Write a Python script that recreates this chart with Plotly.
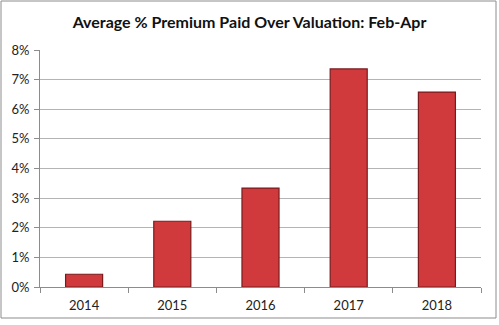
import plotly.graph_objects as go

years = ["2014", "2015", "2016", "2017", "2018"]
premium = [0.0043, 0.0222, 0.0334, 0.0736, 0.0658]

W, H = 499, 325
ml, mr, mt, mb = 40, 18, 50, 38
pw, ph = W - ml - mr, H - mt - mb

fig = go.Figure(
    go.Bar(
        x=years,
        y=premium,
        width=0.42,
        marker=dict(color="#D03A3C", line=dict(color="#7A1A1C", width=1.2)),
    )
)

# outer frame around the whole chart, expressed in paper units
fx0, fx1 = (1 - ml) / pw, (W - 3 - ml) / pw
fy0, fy1 = -(H - 7 - (H - mb)) / ph, (H - mb - 1) / ph
fig.add_shape(type="rect", xref="paper", yref="paper",
              x0=fx0, x1=fx1, y0=fy0, y1=fy1,
              line=dict(color="#8C8C8C", width=1), layer="below")

fig.update_layout(
    width=W, height=H,
    margin=dict(l=ml, r=mr, t=mt, b=mb),
    paper_bgcolor="white", plot_bgcolor="white",
    font=dict(family="Lato, Open Sans, sans-serif", size=13, color="#222222"),
    title=dict(text="<b>Average % Premium Paid Over Valuation: Feb-Apr</b>",
               x=0.5, xanchor="center", y=1 - 22 / H, yanchor="middle",
               font=dict(size=16, color="#111111")),
    showlegend=False,
    bargap=0.58,
)
fig.update_xaxes(
    showline=True, linecolor="#8C8C8C", linewidth=1,
    ticks="outside", tickson="boundaries", ticklen=5, tickcolor="#8C8C8C",
    showgrid=False, tickfont=dict(size=13), ticklabelstandoff=6,
)
fig.update_yaxes(
    range=[0, 0.08], dtick=0.01, tickformat=".0%",
    showline=True, linecolor="#8C8C8C", linewidth=1,
    ticks="outside", ticklen=5, tickcolor="#8C8C8C",
    showgrid=True, gridcolor="#B4B4B4", gridwidth=1,
    zeroline=False, tickfont=dict(size=13), ticklabelstandoff=2,
)

fig.write_html("out.html")
